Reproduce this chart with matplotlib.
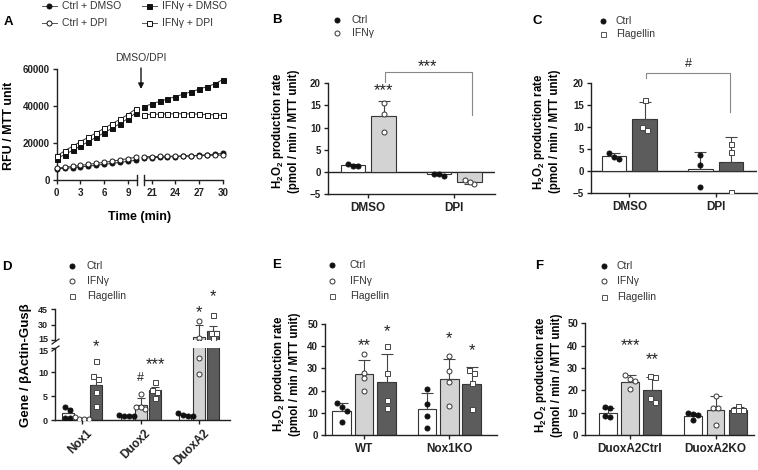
"""Multi-panel H2O2 / gene expression figure (A-F)."""

import numpy as np
import matplotlib
matplotlib.use("Agg")
import matplotlib.pyplot as plt
from matplotlib.lines import Line2D
import matplotlib.transforms as mtransforms

W, H = 758, 470

# ── Data ────────────────────────────────────────────────────────────────
# A: kinetics
A_time_pre = [0, 1, 2, 3, 4, 5, 6, 7, 8, 9, 10]
A_time_post = [20, 21, 22, 23, 24, 25, 26, 27, 28, 29, 30]
A_ctrl_dmso_pre = [6000, 6300, 6700, 7100, 7500, 8000, 8500, 9000, 9500, 10100, 10700]
A_ctrl_dmso_post = [11900, 12100, 12300, 12500, 12700, 12900, 13100, 13400, 13700, 14000, 14400]
A_ctrl_dpi_pre = [6400, 6900, 7400, 7900, 8500, 9000, 9600, 10200, 10900, 11600, 12300]
A_ctrl_dpi_post = [12600, 12700, 12800, 12900, 13000, 13000, 13100, 13200, 13300, 13400, 13500]
A_ifn_dmso_pre = [11500, 13800, 16000, 18400, 20800, 23200, 25600, 28000, 30600, 33300, 36300]
A_ifn_dmso_post = [39700, 41200, 42600, 43900, 45200, 46500, 47800, 49200, 50600, 52100, 54400]
A_ifn_dpi_pre = [13000, 15800, 18300, 20800, 23200, 25600, 28000, 30500, 32900, 35500, 38600]
A_ifn_dpi_post = [35400, 35600, 35700, 35800, 35900, 35900, 35800, 35700, 35500, 35300, 35100]

# B
B_groups = ["DMSO", "DPI"]
B_ctrl_mean = [1.5, -0.5]
B_ctrl_err = [0.3, 0.3]
B_ctrl_pts = [[1.8, 1.3, 1.4], [-0.4, -0.9, -0.5]]
B_ifn_mean = [12.7, -2.3]
B_ifn_err = [3.2, 0.5]
B_ifn_pts = [[15.5, 13.1, 9.1], [-1.8, -2.7, -2.3]]

# C
C_groups = ["DMSO", "DPI"]
C_ctrl_mean = [3.5, 0.5]
C_ctrl_err = [0.6, 3.8]
C_ctrl_pts = [[4.0, 2.8, 3.3], [3.7, 1.5, -3.6]]
C_fla_mean = [11.9, 2.0]
C_fla_err = [3.7, 5.8]
C_fla_pts = [[16.1, 9.3, 9.9], [6.2, 4.4, -4.8]]

# D
D_genes = ["Nox1", "Duox2", "DuoxA2"]
D_ctrl_mean = [1.4, 0.9, 1.0]
D_ctrl_err = [1.1, 0.1, 0.2]
D_ctrl_pts = [[2.1, 2.7, 0.4, 0.5], [0.8, 0.9, 1.0, 0.9], [0.8, 1.1, 1.4, 0.9]]
D_ifn_mean = [0.35, 3.1, 18.0]
D_ifn_err = [0.15, 1.4, 11.5]
D_ifn_pts = [[0.3, 0.6, 0.3, 0.2], [5.4, 2.7, 2.4, 2.7], [33.9, 17.3, 12.9, 9.6]]
D_fla_mean = [7.4, 6.2, 24.0]
D_fla_err = [1.6, 0.6, 5.0]
D_fla_pts = [[12.4, 9.2, 8.6, 5.8, 3.0], [8.0, 6.3, 5.9, 4.5], [39.4, 22.0, 22.0, 16.6]]

# E
E_groups = ["WT", "Nox1KO"]
E_ctrl_mean = [11.0, 11.5]
E_ctrl_err = [3.5, 7.5]
E_ctrl_pts = [[14.5, 12.5, 11.0, 6.0], [20.5, 14.0, 8.5, 3.0]]
E_ifn_mean = [27.3, 25.4]
E_ifn_err = [6.7, 9.0]
E_ifn_pts = [[36.5, 28.0, 25.5, 20.0], [35.5, 29.0, 24.0, 13.0]]
E_fla_mean = [24.0, 23.1]
E_fla_err = [12.7, 7.6]
E_fla_pts = [[40.0, 28.0, 15.8, 12.2], [28.0, 29.3, 23.2, 11.8]]

# F
F_groups = ["DuoxA2Ctrl", "DuoxA2KO"]
F_ctrl_mean = [10.0, 8.6]
F_ctrl_err = [2.0, 1.3]
F_ctrl_pts = [[12.0, 12.4, 8.0, 8.3], [9.8, 9.3, 9.0, 6.5]]
F_ifn_mean = [23.8, 11.3]
F_ifn_err = [3.0, 6.3]
F_ifn_pts = [[27.0, 25.0, 24.0, 20.6], [17.3, 12.2, 12.0, 4.3]]
F_fla_mean = [20.2, 11.1]
F_fla_err = [5.8, 1.5]
F_fla_pts = [[26.0, 26.2, 14.6, 16.4], [13.2, 11.0, 11.0, 11.0]]

# ── Style ───────────────────────────────────────────────────────────────
INK = "#222222"
LIGHT = "#d3d3d3"
DARK = "#5c5c5c"

plt.rcParams.update({
    "font.family": ["Liberation Sans", "DejaVu Sans"],
    "font.weight": "bold",
    "mathtext.fontset": "custom",
    "mathtext.rm": "Liberation Sans",
    "mathtext.bf": "Liberation Sans:bold",
    "axes.linewidth": 1.0,
    "axes.edgecolor": INK,
    "xtick.color": INK,
    "ytick.color": INK,
    "xtick.major.size": 3,
    "ytick.major.size": 3,
    "xtick.major.width": 1.0,
    "ytick.major.width": 1.0,
    "xtick.major.pad": 2.5,
    "ytick.major.pad": 2,
})

fig = plt.figure(figsize=(W / 100, H / 100), dpi=100)


def fx(x):
    return x / W


def fy(y):
    return 1 - y / H


def add_ax(x0, y0, x1, y1):
    ax = fig.add_axes([x0 / W, 1 - y1 / H, (x1 - x0) / W, (y1 - y0) / H])
    ax.spines[["top", "right"]].set_visible(False)
    ax.patch.set_alpha(0)
    ax.tick_params(labelsize=7)
    return ax


def ftext(x, y, s, **kw):
    kw.setdefault("ha", "center")
    kw.setdefault("va", "center")
    return fig.text(fx(x), fy(y), s, **kw)


def legend_dot(xm, xt, y, text, marker, mfc, mec):
    fig.add_artist(Line2D([fx(xm)], [fy(y)], transform=fig.transFigure, ls="none",
                          marker=marker, ms=3.6, mfc=mfc, mec=mec, mew=0.7))
    ftext(xt, y, text, ha="left", fontsize=7.5, fontweight="normal", color="#333333")


def legend_line(x0, x1, xt, y, text, marker, mfc):
    fig.add_artist(Line2D([fx(x0), fx(x1)], [fy(y), fy(y)], transform=fig.transFigure,
                          color="#555555", lw=0.7))
    fig.add_artist(Line2D([fx((x0 + x1) / 2)], [fy(y)], transform=fig.transFigure, ls="none",
                          marker=marker, ms=3.6, mfc=mfc, mec="#111111", mew=0.7))
    ftext(xt, y, text, ha="left", fontsize=7.5, fontweight="normal", color="#333333")


def mark(ax, x, y, s):
    # y is the visual centre of the glyph
    if s.startswith("*"):
        fs, dy = 12, -0.58 * 12
    else:
        fs, dy = 9, -0.36 * 9
    ax.annotate(s, (x, y), xytext=(0, dy), textcoords="offset points", ha="center",
                va="baseline", fontsize=fs, fontweight="normal", color=INK,
                annotation_clip=False)


def spread(ypix, step):
    """Spread overlapping dots sideways (GraphPad-like)."""
    ypix = np.asarray(ypix, float)
    order = np.argsort(-ypix)
    offs = np.zeros(len(ypix))
    groups, cur = [], [order[0]]
    for i in order[1:]:
        if abs(ypix[i] - ypix[cur[-1]]) < 4.5:
            cur.append(i)
        else:
            groups.append(cur)
            cur = [i]
    groups.append(cur)
    for g in groups:
        k = len(g)
        for j, idx in enumerate(g):
            offs[idx] = (j - (k - 1) / 2) * step
    return offs


def draw_group(ax, xs, means, errs, pts, face, marker, mfc, mec, width, ppx, ypix, capsize):
    for x, m, e, p in zip(xs, means, errs, pts):
        ax.bar(x, m, width, color=face, edgecolor="#333333", linewidth=0.8, zorder=2)
        if e > 0:
            yerr = [[0], [e]] if m >= 0 else [[e], [0]]
            ax.errorbar(x, m, yerr=yerr, fmt="none", ecolor="#444444", elinewidth=0.8,
                        capsize=capsize, capthick=0.8, zorder=3)
        offs = spread([ypix(v) for v in p], 4.8 / ppx)
        ax.plot(x + offs, p, ls="none", marker=marker, ms=3.6, mfc=mfc, mec=mec,
                mew=0.7, zorder=4)


def cat_axis(ax, labels, fs=8.5):
    ax.set_xticks(range(len(labels)))
    ax.set_xticklabels(labels, fontsize=fs, fontweight="bold")


# ── A ───────────────────────────────────────────────────────────────────
axL = add_ax(56.7, 69.3, 137.0, 180.0)
axR = add_ax(143.7, 69.3, 222.7, 180.0)
axL.set_xlim(0, 10.15)
axR.set_xlim(20, 30)
for ax in (axL, axR):
    ax.set_ylim(0, 60000)
axL.set_yticks([0, 20000, 40000, 60000])
axL.set_xticks([0, 3, 6, 9])
axR.set_xticks([21, 24, 27, 30])
axR.spines["left"].set_visible(False)
axR.tick_params(axis="y", left=False, labelleft=False)

a_series = [
    (A_ctrl_dmso_pre, A_ctrl_dmso_post, "o", "#111111"),
    (A_ctrl_dpi_pre, A_ctrl_dpi_post, "o", "white"),
    (A_ifn_dmso_pre, A_ifn_dmso_post, "s", "#111111"),
    (A_ifn_dpi_pre, A_ifn_dpi_post, "s", "white"),
]
for pre, post, mk, mfc in a_series:
    for ax, t, v in ((axL, A_time_pre, pre), (axR, A_time_post, post)):
        ax.plot(t, v, color="#333333", lw=0.7, marker=mk, ms=3.6, mfc=mfc,
                mec="#111111", mew=0.7, clip_on=False, zorder=3)

# axis segment end ticks
for ax, xv in ((axL, 10.15), (axR, 20)):
    ax.plot([xv, xv], [-0.045, 0.045], transform=ax.get_xaxis_transform(),
            color=INK, lw=1.0, clip_on=False)

axL.annotate("", xy=(fx(141), fy(89)), xytext=(fx(141), fy(68)),
             xycoords="figure fraction", textcoords="figure fraction",
             arrowprops=dict(arrowstyle="-|>", color="#111111", lw=1.0,
                             mutation_scale=8, shrinkA=0, shrinkB=0))
ftext(141, 58, "DMSO/DPI", fontsize=7.5, fontweight="normal", color="#333333")
ftext(140, 216.7, "Time (min)", fontsize=9)
ftext(9, 126, "RFU / MTT unit", fontsize=9, rotation=90)
ftext(8.5, 22, "A", fontsize=9.5)

legend_line(41.7, 56.7, 61.7, 6, "Ctrl + DMSO", "o", "#111111")
legend_line(41.7, 56.7, 61.7, 22.7, "Ctrl + DPI", "o", "white")
legend_line(141.7, 156.7, 161.7, 6, "IFN\u03b3 + DMSO", "s", "#111111")
legend_line(141.7, 156.7, 161.7, 22.7, "IFN\u03b3 + DPI", "s", "white")

H2O2_LABEL = "$\\mathbf{H_2O_2}$ production rate\n(pmol / min / MTT unit)"

# ── B ───────────────────────────────────────────────────────────────────
axB = add_ax(327.7, 83.3, 495.0, 194.0)
axB.set_xlim(-0.472, 1.473)
axB.set_ylim(-5, 20)
axB.set_yticks([-5, 0, 5, 10, 15, 20])
cat_axis(axB, B_groups)
axB.axhline(0, color=INK, lw=1.0, zorder=1)
yb = lambda v: v * 4.43
draw_group(axB, [-0.178, 0.822], B_ctrl_mean, B_ctrl_err, B_ctrl_pts, "white",
           "o", "#111111", "#111111", 0.29, 86, yb, 4.5)
draw_group(axB, [0.178, 1.178], B_ifn_mean, B_ifn_err, B_ifn_pts, LIGHT,
           "o", "white", "#333333", 0.29, 86, yb, 4.5)
axB.plot([0.19, 0.19, 1.2, 1.2], [20.3, 22.6, 22.6, 12.8], color="#888888", lw=0.8,
         clip_on=False)
mark(axB, 0.69, 24.9, "***")
mark(axB, 0.178, 19.4, "***")
ftext(285, 130.8, H2O2_LABEL, fontsize=8.3, rotation=90, linespacing=1.15)
ftext(276.7, 20, "B", fontsize=9.5)
legend_dot(337.3, 351.7, 20, "Ctrl", "o", "#111111", "#111111")
legend_dot(337.3, 351.7, 33.3, "IFN\u03b3", "o", "white", "#333333")

# ── C ───────────────────────────────────────────────────────────────────
axC = add_ax(590.7, 82.7, 757.0, 193.3)
axC.set_xlim(-0.447, 1.478)
axC.set_ylim(-5, 20)
axC.set_yticks([-5, 0, 5, 10, 15, 20])
cat_axis(axC, C_groups)
axC.axhline(0, color=INK, lw=1.0, zorder=1)
draw_group(axC, [-0.178, 0.822], C_ctrl_mean, C_ctrl_err, C_ctrl_pts, "white",
           "o", "#111111", "#111111", 0.285, 86.4, yb, 4.5)
draw_group(axC, [0.178, 1.178], C_fla_mean, C_fla_err, C_fla_pts, DARK,
           "s", "white", "#444444", 0.285, 86.4, yb, 4.5)
axC.plot([0.193, 0.193, 1.165, 1.165], [21.0, 22.3, 22.3, 13.4], color="#888888",
         lw=0.8, clip_on=False)
mark(axC, 0.68, 24.6, "#")
ftext(546, 131.7, H2O2_LABEL, fontsize=8.3, rotation=90, linespacing=1.15)
ftext(537.5, 20.7, "C", fontsize=9.5)
legend_dot(602.7, 616, 20.7, "Ctrl", "o", "#111111", "#111111")
legend_dot(602.7, 616, 34, "Flagellin", "s", "white", "#555555")

# ── D (broken y axis) ───────────────────────────────────────────────────
axDl = add_ax(55, 348.3, 230, 420)
axDu = add_ax(55, 309.3, 230, 340)
for ax in (axDl, axDu):
    ax.set_xlim(-0.457, 2.52)
    ax.tick_params(axis="y", labelsize=6.5)
axDl.set_ylim(0, 15)
axDu.set_ylim(15, 45)
axDl.set_yticks([0, 5, 10, 15])
axDu.set_yticks([15, 30, 45])
axDu.spines["bottom"].set_visible(False)
axDu.tick_params(axis="x", bottom=False, labelbottom=False)
# nudge the two "15" labels apart, as in the original
up = mtransforms.ScaledTranslation(0, 2 / 100, fig.dpi_scale_trans)
down = mtransforms.ScaledTranslation(0, -2.5 / 100, fig.dpi_scale_trans)
axDu.get_yticklabels()[0].set_transform(axDu.get_yticklabels()[0].get_transform() + up)
axDl.get_yticklabels()[-1].set_transform(axDl.get_yticklabels()[-1].get_transform() + down)
axDl.set_xticks(range(len(D_genes)))
axDl.set_xticklabels(D_genes, rotation=45, ha="right", va="top", rotation_mode="anchor",
                     fontsize=8.5, fontweight="bold")
shift = mtransforms.ScaledTranslation(4 / 100, 0, fig.dpi_scale_trans)
for lab in axDl.get_xticklabels():
    lab.set_transform(lab.get_transform() + shift)


def yd(v):
    return v * 4.78 if v <= 15 else 71.7 + 8 + (v - 15) * 1.02


for ax in (axDl, axDu):
    draw_group(ax, [-0.238, 0.762, 1.762], D_ctrl_mean, D_ctrl_err, D_ctrl_pts, "white",
               "o", "#111111", "#111111", 0.204, 58.7, yd, 3)
    draw_group(ax, [0, 1, 2], D_ifn_mean, D_ifn_err, D_ifn_pts, LIGHT,
               "o", "white", "#333333", 0.204, 58.7, yd, 3)
    draw_group(ax, [0.238, 1.238, 2.238], D_fla_mean, D_fla_err, D_fla_pts, DARK,
               "s", "white", "#444444", 0.204, 58.7, yd, 3)

# break marks
for yy in (341.5, 348.5):
    fig.add_artist(Line2D([fx(52), fx(59)], [fy(yy + 2.5), fy(yy - 2.5)],
                          transform=fig.transFigure, color=INK, lw=0.9))

mark(axDl, 0.238, 16.4, "*")
mark(axDl, 1.0, 9.2, "#")
mark(axDl, 1.25, 12.6, "***")
mark(axDu, 2.0, 47, "*")
mark(axDu, 2.238, 62, "*")
ftext(26, 365, "Gene / \u03b2Actin-Gus\u03b2", fontsize=9.5, rotation=90)
ftext(6.5, 267, "D", fontsize=9.5)
legend_dot(71.7, 86.7, 266, "Ctrl", "o", "#111111", "#111111")
legend_dot(71.7, 86.7, 281, "IFN\u03b3", "o", "white", "#333333")
legend_dot(71.7, 86.7, 296, "Flagellin", "s", "white", "#555555")

# ── E ───────────────────────────────────────────────────────────────────
axE = add_ax(325, 324, 497, 435)
axE.set_xlim(-0.46, 1.56)
axE.set_ylim(0, 50)
axE.set_yticks([0, 10, 20, 30, 40, 50])
cat_axis(axE, E_groups)
ye = lambda v: v * 2.22
draw_group(axE, [-0.263, 0.737], E_ctrl_mean, E_ctrl_err, E_ctrl_pts, "white",
           "o", "#111111", "#111111", 0.218, 85, ye, 4.5)
draw_group(axE, [0, 1], E_ifn_mean, E_ifn_err, E_ifn_pts, LIGHT,
           "o", "white", "#333333", 0.218, 85, ye, 4.5)
draw_group(axE, [0.263, 1.263], E_fla_mean, E_fla_err, E_fla_pts, DARK,
           "s", "white", "#444444", 0.218, 85, ye, 4.5)
mark(axE, 0.0, 42.8, "**")
mark(axE, 0.263, 48.8, "*")
mark(axE, 1.0, 45.8, "*")
mark(axE, 1.263, 40.5, "*")
ftext(286, 374, H2O2_LABEL, fontsize=8.3, rotation=90, linespacing=1.15)
ftext(277, 265, "E", fontsize=9.5)
legend_dot(331.7, 350, 265, "Ctrl", "o", "#111111", "#111111")
legend_dot(331.7, 350, 280.7, "IFN\u03b3", "o", "white", "#333333")
legend_dot(331.7, 350, 296, "Flagellin", "s", "white", "#555555")

# ── F ───────────────────────────────────────────────────────────────────
axF = add_ax(585, 323.3, 754, 435)
axF.set_xlim(-0.526, 1.45)
axF.set_ylim(0, 50)
axF.set_yticks([0, 10, 20, 30, 40, 50])
cat_axis(axF, F_groups)
draw_group(axF, [-0.26, 0.74], F_ctrl_mean, F_ctrl_err, F_ctrl_pts, "white",
           "o", "#111111", "#111111", 0.207, 85.5, ye, 4.5)
draw_group(axF, [0, 1], F_ifn_mean, F_ifn_err, F_ifn_pts, LIGHT,
           "o", "white", "#333333", 0.207, 85.5, ye, 4.5)
draw_group(axF, [0.26, 1.26], F_fla_mean, F_fla_err, F_fla_pts, DARK,
           "s", "white", "#444444", 0.207, 85.5, ye, 4.5)
mark(axF, 0.0, 42.5, "***")
mark(axF, 0.26, 36.1, "**")
ftext(548, 375, H2O2_LABEL, fontsize=8.3, rotation=90, linespacing=1.15)
ftext(539.5, 266, "F", fontsize=9.5)
legend_dot(604, 616.7, 266, "Ctrl", "o", "#111111", "#111111")
legend_dot(604, 616.7, 281.3, "IFN\u03b3", "o", "white", "#333333")
legend_dot(604, 616.7, 297, "Flagellin", "s", "white", "#555555")

fig.savefig("out.png", dpi=100)
